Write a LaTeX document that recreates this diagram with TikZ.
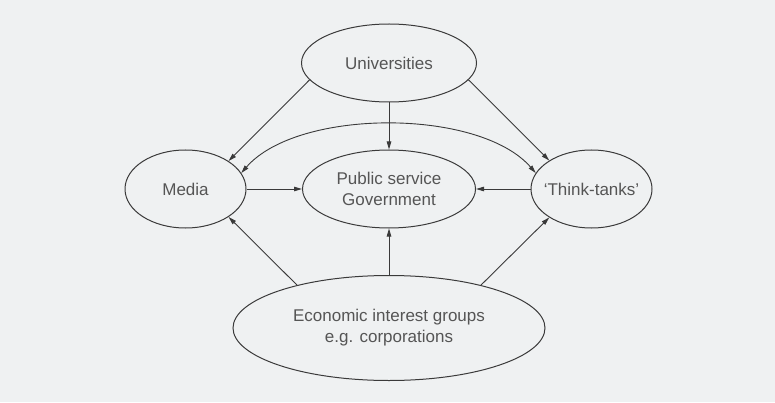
\documentclass[tikz,border=0pt]{standalone}
\usepackage{fontspec}
\setmainfont{Liberation Sans}
\usetikzlibrary{shapes.geometric,arrows.meta}
\definecolor{bgpaper}{RGB}{239,241,242}
\definecolor{inkgrey}{RGB}{58,58,58}
\definecolor{textgrey}{RGB}{85,85,85}

\begin{document}
\begin{tikzpicture}[x=1pt, y=1pt,
    >={Triangle[length=8pt,width=4.5pt]},
    actor/.style={draw=inkgrey, ellipse, line width=1pt, inner sep=0pt, text=textgrey, align=center, font=\fontsize{17}{21}\selectfont},
    link/.style={draw=inkgrey, line width=0.9pt, ->}]
                    \fill[bgpaper] (0,0) rectangle (775,402);
                    \useasboundingbox (0,0) rectangle (775,402);

                    \node[actor, minimum width=175pt, minimum height=78pt] (U) at (389,339) {Universities};
                    \node[actor, minimum width=121pt, minimum height=78pt] (M) at (185.5,213) {Media};
                    \node[actor, minimum width=173pt, minimum height=78pt] (G) at (389,213) {Public service\\Government};
                    \node[actor, minimum width=121pt, minimum height=78pt, inner xsep=-5pt] (T) at (591.5,213) {`Think-tanks'};
                    \node[actor, minimum width=312pt, minimum height=105pt] (E) at (389,74) {Economic interest groups\\e.g. corporations};

                    \draw[link] (U.192) -- (M.33);
                    \draw[link] (U) -- (G);
                    \draw[link] (U.348) -- (T.146);
                    \draw[link, <->] (M.16) .. controls +(49:86) and +(131:86) .. (T.164);
                    \draw[link] (M) -- (G);
                    \draw[link] (T) -- (G);
                    \draw[link] (E.155) -- (M.327);
                    \draw[link] (E) -- (G);
                    \draw[link] (E.25) -- (T.214);
                \end{tikzpicture}
\end{document}
